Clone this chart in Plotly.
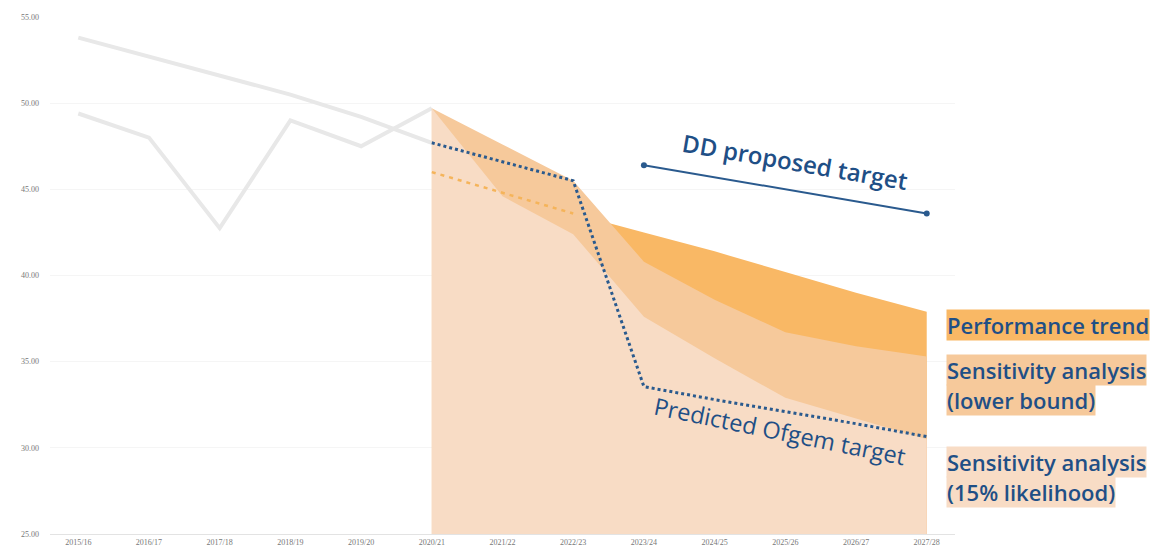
import plotly.graph_objects as go

years = ["2015/16", "2016/17", "2017/18", "2018/19", "2019/20", "2020/21", "2021/22",
         "2022/23", "2023/24", "2024/25", "2025/26", "2026/27", "2027/28"]

# historic grey lines
hist_upper_x = years[0:6]
hist_upper = [53.8, 52.7, 51.6, 50.5, 49.2, 47.7]
hist_actual_x = years[0:6]
hist_actual = [49.4, 48.0, 42.75, 49.0, 47.5, 49.7]

# performance trend (dashed part, then filled part)
trend_dash_x = years[5:8]
trend_dash = [46.0, 44.8, 43.6]
trend_fill_x = years[7:13]
trend_fill = [43.6, 42.5, 41.4, 40.2, 39.0, 37.9]

# sensitivity analysis
lower_x = years[5:13]
lower_bound = [49.7, 47.6, 45.5, 40.8, 38.6, 36.7, 35.9, 35.3]
lik_x = years[5:13]
likelihood15 = [49.7, 44.6, 42.4, 37.6, 35.2, 32.9, 31.7, 30.5]

# targets
ofgem_x = years[5:13]
ofgem_target = [47.7, 46.6, 45.5, 33.55, 32.8, 32.1, 31.4, 30.65]
dd_x = ["2023/24", "2027/28"]
dd_target = [46.4, 43.6]

y_ticks = [25, 30, 35, 40, 45, 50, 55]

C_DARK = "#f9b865"
C_MED = "#f6c99b"
C_LIGHT = "#f8dcc5"
C_BLUE = "#2a5a8e"
C_TEXT = "#1f4f86"
C_GREY = "#e8e8e8"

fig = go.Figure()

fig.add_trace(go.Scatter(x=hist_upper_x, y=hist_upper, mode="lines",
                         line=dict(color=C_GREY, width=4), hoverinfo="skip"))
fig.add_trace(go.Scatter(x=hist_actual_x, y=hist_actual, mode="lines",
                         line=dict(color=C_GREY, width=4), hoverinfo="skip"))

fig.add_trace(go.Scatter(x=trend_fill_x, y=trend_fill, mode="none", fill="tozeroy",
                         fillcolor=C_DARK, hoverinfo="skip"))
fig.add_trace(go.Scatter(x=lower_x, y=lower_bound, mode="none", fill="tozeroy",
                         fillcolor=C_MED, hoverinfo="skip"))
fig.add_trace(go.Scatter(x=lik_x, y=likelihood15, mode="none", fill="tozeroy",
                         fillcolor=C_LIGHT, hoverinfo="skip"))

fig.add_trace(go.Scatter(x=trend_dash_x, y=trend_dash, mode="lines",
                         line=dict(color="#f5b45a", width=2.5, dash="4px,5px"), hoverinfo="skip"))
fig.add_trace(go.Scatter(x=ofgem_x, y=ofgem_target, mode="lines",
                         line=dict(color=C_BLUE, width=3, dash="dot"), hoverinfo="skip"))
fig.add_trace(go.Scatter(x=dd_x, y=dd_target, mode="lines+markers",
                         line=dict(color=C_BLUE, width=2),
                         marker=dict(color=C_BLUE, size=6), hoverinfo="skip"))

annos = []
annos.append(dict(x=10.14, y=46.6, xref="x", yref="y", text="DD proposed target",
                  showarrow=False, textangle=9.8,
                  font=dict(family="Open Sans", size=24, color=C_TEXT, weight=600)))
annos.append(dict(x=9.92, y=31.0, xref="x", yref="y", text="Predicted Ofgem target",
                  showarrow=False, textangle=11.5,
                  font=dict(family="Open Sans", size=23.5, color=C_TEXT, weight=500)))

labels = [("Performance trend", 37.15, C_DARK),
          ("Sensitivity analysis", 34.5, C_MED),
          ("(lower bound)", 32.76, C_MED),
          ("Sensitivity analysis", 29.2, C_LIGHT),
          ("(15% likelihood)", 27.46, C_LIGHT)]
for txt, yv, bg in labels:
    annos.append(dict(x=0.99, y=yv, xref="paper", yref="y", text=txt,
                      showarrow=False, xanchor="left", yanchor="middle",
                      bgcolor=bg, borderpad=0,
                      font=dict(family="Open Sans", size=22, color=C_TEXT, weight=600)))

fig.update_layout(
    width=1166, height=559,
    margin=dict(l=50, r=211, t=17, b=23),
    paper_bgcolor="white", plot_bgcolor="white",
    showlegend=False,
    annotations=annos,
    xaxis=dict(type="category", categoryorder="array", categoryarray=years,
               range=[-0.4, 12.4], showgrid=False, showline=True,
               linecolor="#e3e3e3", linewidth=1, ticks="",
               tickfont=dict(family="Liberation Serif", size=8, color="#777777")),
    yaxis=dict(range=[25, 55], tickvals=y_ticks, tickformat=".2f",
               showgrid=True, gridcolor="#f5f5f5", gridwidth=1, zeroline=False,
               ticks="", ticklabelstandoff=10,
               tickfont=dict(family="Liberation Serif", size=8, color="#777777")),
)

fig.write_html("out.html")
